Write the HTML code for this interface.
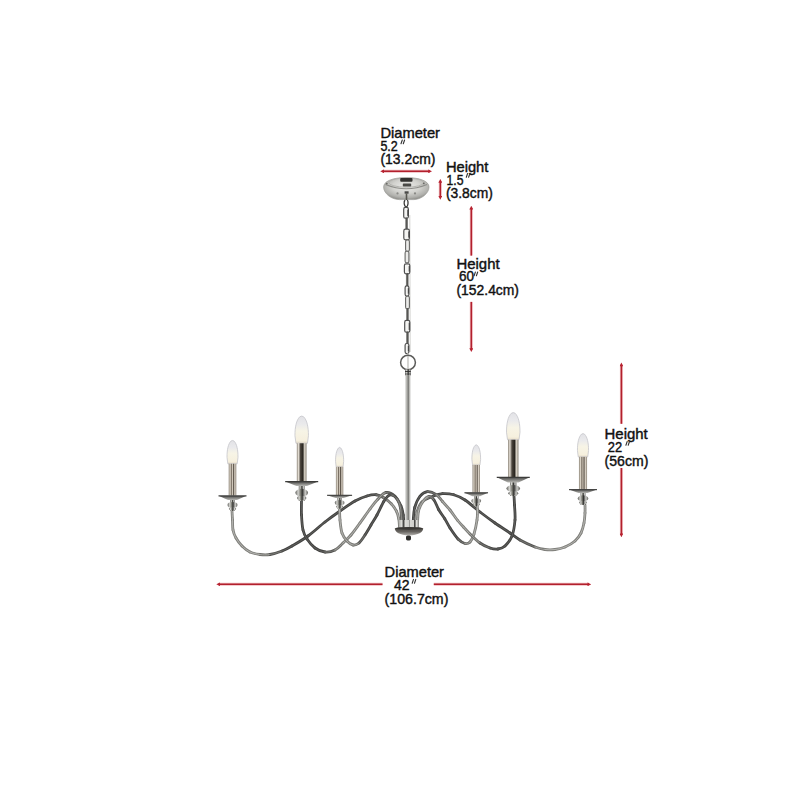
<!DOCTYPE html>
<html><head><meta charset="utf-8">
<style>
html,body{margin:0;padding:0;background:#fff;width:800px;height:800px;overflow:hidden}
svg{display:block}
.t{font-family:"Liberation Sans",sans-serif;font-size:14.8px;fill:#111;stroke:#111;stroke-width:0.42}
</style></head><body>
<svg width="800" height="800" viewBox="0 0 800 800">
<defs>
<marker id="ah" viewBox="0 0 10 10" refX="4" refY="5" markerWidth="4.2" markerHeight="3.8" orient="auto-start-reverse" markerUnits="userSpaceOnUse">
<path d="M0,0 L10,5 L0,10 z" fill="#b82230"/>
</marker>
<linearGradient id="stemg" x1="0" x2="1" y1="0" y2="0">
<stop offset="0" stop-color="#8a8a86"/><stop offset="0.25" stop-color="#cdcdc9"/><stop offset="0.45" stop-color="#8a8a86"/><stop offset="0.55" stop-color="#3e3e3c"/><stop offset="0.65" stop-color="#9a9a96"/><stop offset="0.82" stop-color="#c4c4c0"/><stop offset="1" stop-color="#7e7e7a"/>
</linearGradient>
<linearGradient id="sleeve" x1="0" x2="1" y1="0" y2="0">
<stop offset="0" stop-color="#8c8478"/><stop offset="0.25" stop-color="#e0dcd4"/><stop offset="0.5" stop-color="#5a554e"/><stop offset="0.75" stop-color="#cfc9bf"/><stop offset="1" stop-color="#8a847a"/>
</linearGradient>
<linearGradient id="bulb" x1="0" x2="0" y1="0" y2="1"><stop offset="0" stop-color="#e2e2e6"/><stop offset="0.3" stop-color="#eaeaec"/><stop offset="0.55" stop-color="#f7f4e6"/><stop offset="0.9" stop-color="#f6f0de"/><stop offset="1" stop-color="#e6dcc8"/></linearGradient>
<linearGradient id="stemg2" x1="0" x2="1"><stop offset="0" stop-color="#777"/><stop offset="0.3" stop-color="#d8d8d4"/><stop offset="0.55" stop-color="#2e2e2c"/><stop offset="0.8" stop-color="#bdbdb9"/><stop offset="1" stop-color="#666"/></linearGradient>
<linearGradient id="collar" x1="0" x2="1"><stop offset="0" stop-color="#b0b0ac"/><stop offset="0.15" stop-color="#e2e2de"/><stop offset="0.22" stop-color="#3a3a38"/><stop offset="0.33" stop-color="#dcdcd8"/><stop offset="0.5" stop-color="#cfcfcb"/><stop offset="0.5" stop-color="#2e2e2c"/><stop offset="0.56" stop-color="#d8d8d4"/><stop offset="0.75" stop-color="#d0d0cc"/><stop offset="0.8" stop-color="#3a3a38"/><stop offset="0.9" stop-color="#e0e0dc"/><stop offset="1" stop-color="#9a9a96"/></linearGradient>
<linearGradient id="bowl" x1="0" x2="0" y1="0" y2="1"><stop offset="0" stop-color="#4a4844"/><stop offset="0.5" stop-color="#625f5b"/><stop offset="1" stop-color="#b4b2ae"/></linearGradient>
<linearGradient id="sleeveB" x1="0" x2="1"><stop offset="0" stop-color="#8e877c"/><stop offset="0.18" stop-color="#e4ded4"/><stop offset="0.38" stop-color="#4a443c"/><stop offset="0.62" stop-color="#2a2620"/><stop offset="0.8" stop-color="#d8d2c6"/><stop offset="1" stop-color="#8e877c"/></linearGradient>
<linearGradient id="sleeveS" x1="0" x2="1"><stop offset="0" stop-color="#8a8276"/><stop offset="0.2" stop-color="#dcd5c8"/><stop offset="0.35" stop-color="#7a7064"/><stop offset="0.5" stop-color="#cfc7ba"/><stop offset="0.62" stop-color="#5e564c"/><stop offset="0.8" stop-color="#d6cec2"/><stop offset="1" stop-color="#8a8276"/></linearGradient>
<linearGradient id="knob" x1="0" x2="1"><stop offset="0" stop-color="#5e5e5a"/><stop offset="0.22" stop-color="#d4d4d0"/><stop offset="0.42" stop-color="#77776f"/><stop offset="0.55" stop-color="#333331"/><stop offset="0.78" stop-color="#cfcfcb"/><stop offset="1" stop-color="#5e5e5a"/></linearGradient>
<linearGradient id="bob" x1="0" x2="0" y1="0" y2="1"><stop offset="0" stop-color="#4a4a48"/><stop offset="1" stop-color="#b8b8b4"/></linearGradient>
<radialGradient id="canopyg" cx="0.5" cy="0.4" r="0.62"><stop offset="0" stop-color="#ececea"/><stop offset="0.5" stop-color="#d2d2ce"/><stop offset="0.82" stop-color="#b0b0ac"/><stop offset="1" stop-color="#8c8c88"/></radialGradient>
</defs>

<g stroke="#b2202d" stroke-width="1.5" fill="none">
<line x1="382.5" y1="171.3" x2="429.8" y2="171.3" stroke="#e58c92" stroke-width="3.0" stroke-opacity="0.6"/>
<line x1="382.5" y1="171.3" x2="429.8" y2="171.3" marker-start="url(#ah)" marker-end="url(#ah)"/>
<line x1="440.3" y1="181.2" x2="440.3" y2="197.4" stroke="#e58c92" stroke-width="3.0" stroke-opacity="0.6"/>
<line x1="440.3" y1="181.2" x2="440.3" y2="197.4" marker-start="url(#ah)" marker-end="url(#ah)"/>
<line x1="471.3" y1="208.0" x2="471.3" y2="255.6" stroke="#e58c92" stroke-width="3.0" stroke-opacity="0.6"/>
<line x1="471.3" y1="208.0" x2="471.3" y2="255.6" marker-start="url(#ah)"/>
<line x1="471.3" y1="301.9" x2="471.3" y2="349.8" stroke="#e58c92" stroke-width="3.0" stroke-opacity="0.6"/>
<line x1="471.3" y1="301.9" x2="471.3" y2="349.8" marker-end="url(#ah)"/>
<line x1="621.4" y1="364.8" x2="621.4" y2="423.8" stroke="#e58c92" stroke-width="3.0" stroke-opacity="0.6"/>
<line x1="621.4" y1="364.8" x2="621.4" y2="423.8" marker-start="url(#ah)"/>
<line x1="621.4" y1="468.0" x2="621.4" y2="535.0" stroke="#e58c92" stroke-width="3.0" stroke-opacity="0.6"/>
<line x1="621.4" y1="468.0" x2="621.4" y2="535.0" marker-end="url(#ah)"/>
<line x1="218.6" y1="584.3" x2="382.5" y2="584.3" stroke="#e58c92" stroke-width="3.0" stroke-opacity="0.6"/>
<line x1="218.6" y1="584.3" x2="382.5" y2="584.3" marker-start="url(#ah)"/>
<line x1="433.8" y1="584.3" x2="589.0" y2="584.3" stroke="#e58c92" stroke-width="3.0" stroke-opacity="0.6"/>
<line x1="433.8" y1="584.3" x2="589.0" y2="584.3" marker-end="url(#ah)"/>
</g>
<g class="t">
<text x="380.4" y="137.8" textLength="59.6" lengthAdjust="spacingAndGlyphs">Diameter</text>
<text x="380.4" y="150.9" textLength="17.4" lengthAdjust="spacingAndGlyphs">5.2</text>
<text x="380.4" y="164.4" textLength="55.0" lengthAdjust="spacingAndGlyphs">(13.2cm)</text>
<text x="445.9" y="172.3" textLength="42.5" lengthAdjust="spacingAndGlyphs">Height</text>
<text x="446.5" y="185.1" textLength="17.0" lengthAdjust="spacingAndGlyphs">1.5</text>
<text x="445.9" y="197.8" textLength="46.9" lengthAdjust="spacingAndGlyphs">(3.8cm)</text>
<text x="456.5" y="268.6" textLength="43.1" lengthAdjust="spacingAndGlyphs">Height</text>
<text x="459.0" y="280.8" textLength="15.0" lengthAdjust="spacingAndGlyphs">60</text>
<text x="456.5" y="294.8" textLength="62.5" lengthAdjust="spacingAndGlyphs">(152.4cm)</text>
<text x="604.6" y="439.2" textLength="43.1" lengthAdjust="spacingAndGlyphs">Height</text>
<text x="607.8" y="452.3" textLength="14.4" lengthAdjust="spacingAndGlyphs">22</text>
<text x="604.6" y="466.1" textLength="43.8" lengthAdjust="spacingAndGlyphs">(56cm)</text>
<text x="384.6" y="576.7" textLength="59.4" lengthAdjust="spacingAndGlyphs">Diameter</text>
<text x="394.0" y="590.4" textLength="15.6" lengthAdjust="spacingAndGlyphs">42</text>
<text x="384.6" y="603.6" textLength="63.8" lengthAdjust="spacingAndGlyphs">(106.7cm)</text>
</g>
<g stroke="#333" stroke-width="1.1" fill="none" stroke-linecap="round">
<path d="M402.3,140.0 l-1.3,3.8 M404.6,140.0 l-1.3,3.8"/>
<path d="M467.6,173.5 l-1.3,3.8 M469.9,173.5 l-1.3,3.8"/>
<path d="M475.4,272.0 l-1.3,3.8 M477.7,272.0 l-1.3,3.8"/>
<path d="M627.2,441.5 l-1.3,3.8 M629.5,441.5 l-1.3,3.8"/>
<path d="M413.5,579.4 l-1.3,3.8 M415.8,579.4 l-1.3,3.8"/>
</g>
<g>
<path d="M383.6,187 C383.6,181.5 392,177.6 406.3,177.6 C420.5,177.6 429,181.5 429,187 C429,193.5 421,199.6 413.8,199.6 L399.5,199.6 C391.5,199.6 383.6,193.5 383.6,187 z" fill="url(#canopyg)" stroke="#9c9c98" stroke-width="0.7"/>
<ellipse cx="406.3" cy="182.6" rx="17.5" ry="4.6" fill="none" stroke="#b0b0ac" stroke-width="0.9"/>
<path d="M385.5,184.5 Q406.3,193 427,184.5" fill="none" stroke="#8e8e8a" stroke-width="1.1"/>
<rect x="400.2" y="177.9" width="12.3" height="3.8" rx="1" fill="#333331"/>
<rect x="402.8" y="183.6" width="8.4" height="3" rx="0.8" fill="#4a4a47"/>
<rect x="404.6" y="191.3" width="4" height="2.4" fill="#4a4a48"/>
<circle cx="397.5" cy="193.4" r="1.1" fill="#8a8a86"/>
<circle cx="415" cy="193.4" r="1.1" fill="#8a8a86"/>
<circle cx="386.8" cy="183.6" r="0.9" fill="#6a6a66"/>
<circle cx="423.8" cy="183.4" r="0.9" fill="#6a6a66"/>
<line x1="406.5" y1="193.5" x2="406.5" y2="200" stroke="#55554f" stroke-width="1.6"/>
</g>
<line x1="409.8" y1="215" x2="410.2" y2="352" stroke="#b8b8b4" stroke-width="0.8" stroke-opacity="0.8"/>
<path d="M405,200 C403.5,202 404,206 406.2,207.5 C408.2,206 408.6,202 407.4,200" fill="none" stroke="#3a3a38" stroke-width="1.3"/>
<rect x="403.70" y="207.40" width="4.70" height="10.80" rx="1.6" ry="1.8" fill="#f4f4f2" stroke="#505050" stroke-width="1.2"/>
<line x1="407.80" y1="209.70" x2="407.80" y2="215.90" stroke="#333" stroke-width="0.9"/>
<rect x="405.70" y="217.90" width="1.8" height="11.50" rx="0.9" fill="#5a5a58" stroke="#3a3a38" stroke-width="0.4"/>
<rect x="403.80" y="229.10" width="5.60" height="10.80" rx="1.6" ry="1.8" fill="#f4f4f2" stroke="#505050" stroke-width="1.2"/>
<line x1="408.80" y1="231.40" x2="408.80" y2="237.60" stroke="#333" stroke-width="0.9"/>
<rect x="405.60" y="239.90" width="3.80" height="11.40" rx="1.4" ry="1.8" fill="#ececea" stroke="#676765" stroke-width="1.1"/>
<rect x="405.10" y="251.20" width="3.80" height="11.60" rx="1.4" ry="1.8" fill="#ececea" stroke="#676765" stroke-width="1.1"/>
<rect x="404.40" y="263.80" width="5.40" height="10.10" rx="1.6" ry="1.8" fill="#f4f4f2" stroke="#505050" stroke-width="1.2"/>
<line x1="409.20" y1="266.10" x2="409.20" y2="271.60" stroke="#333" stroke-width="0.9"/>
<rect x="406.40" y="273.50" width="1.8" height="12.70" rx="0.9" fill="#5a5a58" stroke="#3a3a38" stroke-width="0.4"/>
<rect x="405.10" y="285.90" width="3.80" height="10.10" rx="1.6" ry="1.8" fill="#f4f4f2" stroke="#505050" stroke-width="1.2"/>
<line x1="408.30" y1="288.20" x2="408.30" y2="293.70" stroke="#333" stroke-width="0.9"/>
<rect x="405.60" y="296.20" width="3.80" height="12.60" rx="1.4" ry="1.8" fill="#ececea" stroke="#676765" stroke-width="1.1"/>
<rect x="406.60" y="308.50" width="1.8" height="12.20" rx="0.9" fill="#5a5a58" stroke="#3a3a38" stroke-width="0.4"/>
<rect x="404.70" y="320.40" width="5.10" height="11.80" rx="1.6" ry="1.8" fill="#f4f4f2" stroke="#505050" stroke-width="1.2"/>
<line x1="409.20" y1="322.70" x2="409.20" y2="329.90" stroke="#333" stroke-width="0.9"/>
<rect x="406.60" y="331.90" width="1.8" height="11.90" rx="0.9" fill="#5a5a58" stroke="#3a3a38" stroke-width="0.4"/>
<rect x="405.10" y="343.50" width="3.80" height="10.10" rx="1.6" ry="1.8" fill="#f4f4f2" stroke="#505050" stroke-width="1.2"/>
<line x1="408.30" y1="345.80" x2="408.30" y2="351.30" stroke="#333" stroke-width="0.9"/>
<line x1="408" y1="353" x2="408" y2="369" stroke="#c4c4c0" stroke-width="1.4"/>
<ellipse cx="408" cy="362.5" rx="7.4" ry="7.2" fill="none" stroke="#5c5c5a" stroke-width="1.5"/>
<rect x="405" y="369.4" width="5.8" height="6" fill="url(#stemg2)"/>
<line x1="405" y1="371.5" x2="410.8" y2="371.5" stroke="#2e2e2c" stroke-width="0.9"/>
<line x1="405" y1="374" x2="410.8" y2="374" stroke="#3e3e3c" stroke-width="0.8"/>
<rect x="405.7" y="375" width="4.5" height="150" fill="url(#stemg)"/>

<g fill="none" stroke-linecap="round">
<path d="M232.00,511.00 C232.08,512.50 232.33,516.83 232.50,520.00" stroke="#80807c" stroke-width="2.8"/>
<path d="M232.50,520.00 C232.67,523.17 232.42,527.00 233.00,530.00" stroke="#80807c" stroke-width="2.8"/>
<path d="M233.00,530.00 C233.58,533.00 234.50,535.33 236.00,538.00" stroke="#80807c" stroke-width="2.8"/>
<path d="M236.00,538.00 C237.50,540.67 239.67,543.67 242.00,546.00" stroke="#80807c" stroke-width="2.8"/>
<path d="M242.00,546.00 C244.33,548.33 247.00,550.58 250.00,552.00" stroke="#80807c" stroke-width="2.8"/>
<path d="M250.00,552.00 C253.00,553.42 256.67,554.08 260.00,554.50" stroke="#80807c" stroke-width="2.8"/>
<path d="M260.00,554.50 C263.33,554.92 266.33,555.08 270.00,554.50" stroke="#72726e" stroke-width="2.8"/>
<path d="M270.00,554.50 C273.67,553.92 278.33,552.42 282.00,551.00" stroke="#535350" stroke-width="2.8"/>
<path d="M282.00,551.00 C285.67,549.58 287.67,548.50 292.00,546.00" stroke="#434341" stroke-width="2.8"/>
<path d="M292.00,546.00 C296.33,543.50 302.50,540.00 308.00,536.00" stroke="#434341" stroke-width="2.8"/>
<path d="M308.00,536.00 C313.50,532.00 319.67,526.17 325.00,522.00" stroke="#434341" stroke-width="2.8"/>
<path d="M325.00,522.00 C330.33,517.83 335.00,514.50 340.00,511.00" stroke="#434341" stroke-width="2.8"/>
<path d="M340.00,511.00 C345.00,507.50 350.50,503.50 355.00,501.00" stroke="#434341" stroke-width="2.8"/>
<path d="M355.00,501.00 C359.50,498.50 363.46,497.04 367.00,496.00" stroke="#434341" stroke-width="2.8"/>
<path d="M367.00,496.00 C370.54,494.96 373.46,494.46 376.25,494.75" stroke="#434341" stroke-width="2.8"/>
<path d="M376.25,494.75 C379.04,495.04 381.25,496.25 383.75,497.75" stroke="#535350" stroke-width="2.8"/>
<path d="M383.75,497.75 C386.25,499.25 389.12,501.50 391.25,503.75" stroke="#72726e" stroke-width="2.8"/>
<path d="M391.25,503.75 C393.38,506.00 395.25,508.75 396.50,511.25" stroke="#80807c" stroke-width="2.8"/>
<path d="M396.50,511.25 C397.75,513.75 398.25,516.12 398.75,518.75" stroke="#80807c" stroke-width="2.8"/>
<path d="M398.75,518.75 C399.25,521.38 399.38,525.62 399.50,527.00" stroke="#80807c" stroke-width="2.8"/>
<path d="M232.00,511.00 C232.08,512.50 232.33,516.83 232.50,520.00" stroke="#b4b4b0" stroke-width="1.0"/>
<path d="M232.50,520.00 C232.67,523.17 232.42,527.00 233.00,530.00" stroke="#b4b4b0" stroke-width="1.0"/>
<path d="M233.00,530.00 C233.58,533.00 234.50,535.33 236.00,538.00" stroke="#b4b4b0" stroke-width="1.0"/>
<path d="M236.00,538.00 C237.50,540.67 239.67,543.67 242.00,546.00" stroke="#b4b4b0" stroke-width="1.0"/>
<path d="M242.00,546.00 C244.33,548.33 247.00,550.58 250.00,552.00" stroke="#b4b4b0" stroke-width="1.0"/>
<path d="M250.00,552.00 C253.00,553.42 256.67,554.08 260.00,554.50" stroke="#b4b4b0" stroke-width="1.0"/>
<path d="M260.00,554.50 C263.33,554.92 266.33,555.08 270.00,554.50" stroke="#a1a19d" stroke-width="1.0"/>
<path d="M270.00,554.50 C273.67,553.92 278.33,552.42 282.00,551.00" stroke="#777774" stroke-width="1.0"/>
<path d="M282.00,551.00 C285.67,549.58 287.67,548.50 292.00,546.00" stroke="#60605e" stroke-width="1.0"/>
<path d="M292.00,546.00 C296.33,543.50 302.50,540.00 308.00,536.00" stroke="#60605e" stroke-width="1.0"/>
<path d="M308.00,536.00 C313.50,532.00 319.67,526.17 325.00,522.00" stroke="#60605e" stroke-width="1.0"/>
<path d="M325.00,522.00 C330.33,517.83 335.00,514.50 340.00,511.00" stroke="#60605e" stroke-width="1.0"/>
<path d="M340.00,511.00 C345.00,507.50 350.50,503.50 355.00,501.00" stroke="#60605e" stroke-width="1.0"/>
<path d="M355.00,501.00 C359.50,498.50 363.46,497.04 367.00,496.00" stroke="#60605e" stroke-width="1.0"/>
<path d="M367.00,496.00 C370.54,494.96 373.46,494.46 376.25,494.75" stroke="#60605e" stroke-width="1.0"/>
<path d="M376.25,494.75 C379.04,495.04 381.25,496.25 383.75,497.75" stroke="#777774" stroke-width="1.0"/>
<path d="M383.75,497.75 C386.25,499.25 389.12,501.50 391.25,503.75" stroke="#a1a19d" stroke-width="1.0"/>
<path d="M391.25,503.75 C393.38,506.00 395.25,508.75 396.50,511.25" stroke="#b4b4b0" stroke-width="1.0"/>
<path d="M396.50,511.25 C397.75,513.75 398.25,516.12 398.75,518.75" stroke="#b4b4b0" stroke-width="1.0"/>
<path d="M398.75,518.75 C399.25,521.38 399.38,525.62 399.50,527.00" stroke="#b4b4b0" stroke-width="1.0"/>
<path d="M301.50,501.00 C301.50,503.33 301.25,510.17 301.50,515.00" stroke="#434341" stroke-width="2.8"/>
<path d="M301.50,515.00 C301.75,519.83 302.08,526.00 303.00,530.00" stroke="#434341" stroke-width="2.8"/>
<path d="M303.00,530.00 C303.92,534.00 305.00,536.00 307.00,539.00" stroke="#434341" stroke-width="2.8"/>
<path d="M307.00,539.00 C309.00,542.00 312.00,545.83 315.00,548.00" stroke="#434341" stroke-width="2.8"/>
<path d="M315.00,548.00 C318.00,550.17 321.67,551.67 325.00,552.00" stroke="#434341" stroke-width="2.8"/>
<path d="M325.00,552.00 C328.33,552.33 332.00,551.50 335.00,550.00" stroke="#535350" stroke-width="2.8"/>
<path d="M335.00,550.00 C338.00,548.50 340.33,545.50 343.00,543.00" stroke="#72726e" stroke-width="2.8"/>
<path d="M343.00,543.00 C345.67,540.50 348.17,538.33 351.00,535.00" stroke="#80807c" stroke-width="2.8"/>
<path d="M351.00,535.00 C353.83,531.67 356.83,527.33 360.00,523.00" stroke="#80807c" stroke-width="2.8"/>
<path d="M360.00,523.00 C363.17,518.67 367.00,513.00 370.00,509.00" stroke="#80807c" stroke-width="2.8"/>
<path d="M370.00,509.00 C373.00,505.00 375.33,501.75 378.00,499.00" stroke="#80807c" stroke-width="2.8"/>
<path d="M378.00,499.00 C380.67,496.25 383.17,492.96 386.00,492.50" stroke="#72726e" stroke-width="2.8"/>
<path d="M386.00,492.50 C388.83,492.04 392.50,494.00 395.00,496.25" stroke="#535350" stroke-width="2.8"/>
<path d="M395.00,496.25 C397.50,498.50 399.62,502.88 401.00,506.00" stroke="#434341" stroke-width="2.8"/>
<path d="M401.00,506.00 C402.38,509.12 402.75,511.50 403.25,515.00" stroke="#434341" stroke-width="2.8"/>
<path d="M403.25,515.00 C403.75,518.50 403.88,525.00 404.00,527.00" stroke="#434341" stroke-width="2.8"/>
<path d="M301.50,501.00 C301.50,503.33 301.25,510.17 301.50,515.00" stroke="#60605e" stroke-width="1.0"/>
<path d="M301.50,515.00 C301.75,519.83 302.08,526.00 303.00,530.00" stroke="#60605e" stroke-width="1.0"/>
<path d="M303.00,530.00 C303.92,534.00 305.00,536.00 307.00,539.00" stroke="#60605e" stroke-width="1.0"/>
<path d="M307.00,539.00 C309.00,542.00 312.00,545.83 315.00,548.00" stroke="#60605e" stroke-width="1.0"/>
<path d="M315.00,548.00 C318.00,550.17 321.67,551.67 325.00,552.00" stroke="#60605e" stroke-width="1.0"/>
<path d="M325.00,552.00 C328.33,552.33 332.00,551.50 335.00,550.00" stroke="#777774" stroke-width="1.0"/>
<path d="M335.00,550.00 C338.00,548.50 340.33,545.50 343.00,543.00" stroke="#a1a19d" stroke-width="1.0"/>
<path d="M343.00,543.00 C345.67,540.50 348.17,538.33 351.00,535.00" stroke="#b4b4b0" stroke-width="1.0"/>
<path d="M351.00,535.00 C353.83,531.67 356.83,527.33 360.00,523.00" stroke="#b4b4b0" stroke-width="1.0"/>
<path d="M360.00,523.00 C363.17,518.67 367.00,513.00 370.00,509.00" stroke="#b4b4b0" stroke-width="1.0"/>
<path d="M370.00,509.00 C373.00,505.00 375.33,501.75 378.00,499.00" stroke="#b4b4b0" stroke-width="1.0"/>
<path d="M378.00,499.00 C380.67,496.25 383.17,492.96 386.00,492.50" stroke="#a1a19d" stroke-width="1.0"/>
<path d="M386.00,492.50 C388.83,492.04 392.50,494.00 395.00,496.25" stroke="#777774" stroke-width="1.0"/>
<path d="M395.00,496.25 C397.50,498.50 399.62,502.88 401.00,506.00" stroke="#60605e" stroke-width="1.0"/>
<path d="M401.00,506.00 C402.38,509.12 402.75,511.50 403.25,515.00" stroke="#60605e" stroke-width="1.0"/>
<path d="M403.25,515.00 C403.75,518.50 403.88,525.00 404.00,527.00" stroke="#60605e" stroke-width="1.0"/>
<path d="M339.50,508.00 C339.58,510.00 339.58,515.83 340.00,520.00" stroke="#80807c" stroke-width="2.8"/>
<path d="M340.00,520.00 C340.42,524.17 340.83,529.50 342.00,533.00" stroke="#80807c" stroke-width="2.8"/>
<path d="M342.00,533.00 C343.17,536.50 345.17,539.00 347.00,541.00" stroke="#80807c" stroke-width="2.8"/>
<path d="M347.00,541.00 C348.83,543.00 351.00,544.67 353.00,545.00" stroke="#80807c" stroke-width="2.8"/>
<path d="M353.00,545.00 C355.00,545.33 357.00,544.67 359.00,543.00" stroke="#72726e" stroke-width="2.8"/>
<path d="M359.00,543.00 C361.00,541.33 363.00,538.00 365.00,535.00" stroke="#535350" stroke-width="2.8"/>
<path d="M365.00,535.00 C367.00,532.00 369.00,528.33 371.00,525.00" stroke="#434341" stroke-width="2.8"/>
<path d="M371.00,525.00 C373.00,521.67 374.88,518.92 377.00,515.00" stroke="#434341" stroke-width="2.8"/>
<path d="M377.00,515.00 C379.12,511.08 381.92,504.67 383.75,501.50" stroke="#434341" stroke-width="2.8"/>
<path d="M383.75,501.50 C385.58,498.33 386.62,497.08 388.00,496.00" stroke="#434341" stroke-width="2.8"/>
<path d="M388.00,496.00 C389.38,494.92 390.50,494.50 392.00,495.00" stroke="#434341" stroke-width="2.8"/>
<path d="M392.00,495.00 C393.50,495.50 395.58,496.83 397.00,499.00" stroke="#535350" stroke-width="2.8"/>
<path d="M397.00,499.00 C398.42,501.17 399.67,503.33 400.50,508.00" stroke="#636360" stroke-width="2.8"/>
<path d="M400.50,508.00 C401.33,512.67 401.75,523.83 402.00,527.00" stroke="#636360" stroke-width="2.8"/>
<path d="M339.50,508.00 C339.58,510.00 339.58,515.83 340.00,520.00" stroke="#b4b4b0" stroke-width="1.0"/>
<path d="M340.00,520.00 C340.42,524.17 340.83,529.50 342.00,533.00" stroke="#b4b4b0" stroke-width="1.0"/>
<path d="M342.00,533.00 C343.17,536.50 345.17,539.00 347.00,541.00" stroke="#b4b4b0" stroke-width="1.0"/>
<path d="M347.00,541.00 C348.83,543.00 351.00,544.67 353.00,545.00" stroke="#b4b4b0" stroke-width="1.0"/>
<path d="M353.00,545.00 C355.00,545.33 357.00,544.67 359.00,543.00" stroke="#a1a19d" stroke-width="1.0"/>
<path d="M359.00,543.00 C361.00,541.33 363.00,538.00 365.00,535.00" stroke="#777774" stroke-width="1.0"/>
<path d="M365.00,535.00 C367.00,532.00 369.00,528.33 371.00,525.00" stroke="#60605e" stroke-width="1.0"/>
<path d="M371.00,525.00 C373.00,521.67 374.88,518.92 377.00,515.00" stroke="#60605e" stroke-width="1.0"/>
<path d="M377.00,515.00 C379.12,511.08 381.92,504.67 383.75,501.50" stroke="#60605e" stroke-width="1.0"/>
<path d="M383.75,501.50 C385.58,498.33 386.62,497.08 388.00,496.00" stroke="#60605e" stroke-width="1.0"/>
<path d="M388.00,496.00 C389.38,494.92 390.50,494.50 392.00,495.00" stroke="#60605e" stroke-width="1.0"/>
<path d="M392.00,495.00 C393.50,495.50 395.58,496.83 397.00,499.00" stroke="#777774" stroke-width="1.0"/>
<path d="M397.00,499.00 C398.42,501.17 399.67,503.33 400.50,508.00" stroke="#8e8e8a" stroke-width="1.0"/>
<path d="M400.50,508.00 C401.33,512.67 401.75,523.83 402.00,527.00" stroke="#8e8e8a" stroke-width="1.0"/>
<path d="M415.50,524.00 C415.75,522.00 415.92,515.67 417.00,512.00" stroke="#80807c" stroke-width="2.8"/>
<path d="M417.00,512.00 C418.08,508.33 419.25,504.67 422.00,502.00" stroke="#72726e" stroke-width="2.8"/>
<path d="M422.00,502.00 C424.75,499.33 430.08,497.40 433.50,496.00" stroke="#535350" stroke-width="2.8"/>
<path d="M433.50,496.00 C436.92,494.60 439.12,493.81 442.50,493.60" stroke="#434341" stroke-width="2.8"/>
<path d="M442.50,493.60 C445.88,493.39 450.00,493.68 453.75,494.75" stroke="#434341" stroke-width="2.8"/>
<path d="M453.75,494.75 C457.50,495.82 460.62,497.12 465.00,500.00" stroke="#434341" stroke-width="2.8"/>
<path d="M465.00,500.00 C469.38,502.88 475.00,508.17 480.00,512.00" stroke="#434341" stroke-width="2.8"/>
<path d="M480.00,512.00 C485.00,515.83 490.00,519.50 495.00,523.00" stroke="#434341" stroke-width="2.8"/>
<path d="M495.00,523.00 C500.00,526.50 505.83,530.17 510.00,533.00" stroke="#434341" stroke-width="2.8"/>
<path d="M510.00,533.00 C514.17,535.83 515.83,537.67 520.00,540.00" stroke="#434341" stroke-width="2.8"/>
<path d="M520.00,540.00 C524.17,542.33 530.83,545.42 535.00,547.00" stroke="#535350" stroke-width="2.8"/>
<path d="M535.00,547.00 C539.17,548.58 541.67,549.08 545.00,549.50" stroke="#72726e" stroke-width="2.8"/>
<path d="M545.00,549.50 C548.33,549.92 551.67,549.92 555.00,549.50" stroke="#80807c" stroke-width="2.8"/>
<path d="M555.00,549.50 C558.33,549.08 561.67,548.42 565.00,547.00" stroke="#80807c" stroke-width="2.8"/>
<path d="M565.00,547.00 C568.33,545.58 572.33,543.33 575.00,541.00" stroke="#80807c" stroke-width="2.8"/>
<path d="M575.00,541.00 C577.67,538.67 579.50,536.00 581.00,533.00" stroke="#80807c" stroke-width="2.8"/>
<path d="M581.00,533.00 C582.50,530.00 583.33,526.33 584.00,523.00" stroke="#80807c" stroke-width="2.8"/>
<path d="M584.00,523.00 C584.67,519.67 584.83,516.00 585.00,513.00" stroke="#80807c" stroke-width="2.8"/>
<path d="M585.00,513.00 C585.17,510.00 585.00,506.33 585.00,505.00" stroke="#80807c" stroke-width="2.8"/>
<path d="M415.50,524.00 C415.75,522.00 415.92,515.67 417.00,512.00" stroke="#b4b4b0" stroke-width="1.0"/>
<path d="M417.00,512.00 C418.08,508.33 419.25,504.67 422.00,502.00" stroke="#a1a19d" stroke-width="1.0"/>
<path d="M422.00,502.00 C424.75,499.33 430.08,497.40 433.50,496.00" stroke="#777774" stroke-width="1.0"/>
<path d="M433.50,496.00 C436.92,494.60 439.12,493.81 442.50,493.60" stroke="#60605e" stroke-width="1.0"/>
<path d="M442.50,493.60 C445.88,493.39 450.00,493.68 453.75,494.75" stroke="#60605e" stroke-width="1.0"/>
<path d="M453.75,494.75 C457.50,495.82 460.62,497.12 465.00,500.00" stroke="#60605e" stroke-width="1.0"/>
<path d="M465.00,500.00 C469.38,502.88 475.00,508.17 480.00,512.00" stroke="#60605e" stroke-width="1.0"/>
<path d="M480.00,512.00 C485.00,515.83 490.00,519.50 495.00,523.00" stroke="#60605e" stroke-width="1.0"/>
<path d="M495.00,523.00 C500.00,526.50 505.83,530.17 510.00,533.00" stroke="#60605e" stroke-width="1.0"/>
<path d="M510.00,533.00 C514.17,535.83 515.83,537.67 520.00,540.00" stroke="#60605e" stroke-width="1.0"/>
<path d="M520.00,540.00 C524.17,542.33 530.83,545.42 535.00,547.00" stroke="#777774" stroke-width="1.0"/>
<path d="M535.00,547.00 C539.17,548.58 541.67,549.08 545.00,549.50" stroke="#a1a19d" stroke-width="1.0"/>
<path d="M545.00,549.50 C548.33,549.92 551.67,549.92 555.00,549.50" stroke="#b4b4b0" stroke-width="1.0"/>
<path d="M555.00,549.50 C558.33,549.08 561.67,548.42 565.00,547.00" stroke="#b4b4b0" stroke-width="1.0"/>
<path d="M565.00,547.00 C568.33,545.58 572.33,543.33 575.00,541.00" stroke="#b4b4b0" stroke-width="1.0"/>
<path d="M575.00,541.00 C577.67,538.67 579.50,536.00 581.00,533.00" stroke="#b4b4b0" stroke-width="1.0"/>
<path d="M581.00,533.00 C582.50,530.00 583.33,526.33 584.00,523.00" stroke="#b4b4b0" stroke-width="1.0"/>
<path d="M584.00,523.00 C584.67,519.67 584.83,516.00 585.00,513.00" stroke="#b4b4b0" stroke-width="1.0"/>
<path d="M585.00,513.00 C585.17,510.00 585.00,506.33 585.00,505.00" stroke="#b4b4b0" stroke-width="1.0"/>
<path d="M417.40,527.00 C417.58,524.38 417.57,515.50 418.50,511.25" stroke="#80807c" stroke-width="2.8"/>
<path d="M418.50,511.25 C419.43,507.00 421.25,503.96 423.00,501.50" stroke="#80807c" stroke-width="2.8"/>
<path d="M423.00,501.50 C424.75,499.04 427.17,496.75 429.00,496.50" stroke="#80807c" stroke-width="2.8"/>
<path d="M429.00,496.50 C430.83,496.25 432.38,497.79 434.00,500.00" stroke="#62625e" stroke-width="2.8"/>
<path d="M434.00,500.00 C435.62,502.21 436.96,506.62 438.75,509.75" stroke="#434341" stroke-width="2.8"/>
<path d="M438.75,509.75 C440.54,512.88 442.88,515.71 444.75,518.75" stroke="#434341" stroke-width="2.8"/>
<path d="M444.75,518.75 C446.62,521.79 447.79,524.62 450.00,528.00" stroke="#434341" stroke-width="2.8"/>
<path d="M450.00,528.00 C452.21,531.38 455.50,536.42 458.00,539.00" stroke="#434341" stroke-width="2.8"/>
<path d="M458.00,539.00 C460.50,541.58 463.00,543.00 465.00,543.50" stroke="#535350" stroke-width="2.8"/>
<path d="M465.00,543.50 C467.00,544.00 468.50,543.58 470.00,542.00" stroke="#72726e" stroke-width="2.8"/>
<path d="M470.00,542.00 C471.50,540.42 472.83,537.67 474.00,534.00" stroke="#80807c" stroke-width="2.8"/>
<path d="M474.00,534.00 C475.17,530.33 476.42,524.00 477.00,520.00" stroke="#80807c" stroke-width="2.8"/>
<path d="M477.00,520.00 C477.58,516.00 477.50,512.50 477.50,510.00" stroke="#80807c" stroke-width="2.8"/>
<path d="M477.50,510.00 C477.50,507.50 477.08,505.83 477.00,505.00" stroke="#80807c" stroke-width="2.8"/>
<path d="M417.40,527.00 C417.58,524.38 417.57,515.50 418.50,511.25" stroke="#b4b4b0" stroke-width="1.0"/>
<path d="M418.50,511.25 C419.43,507.00 421.25,503.96 423.00,501.50" stroke="#b4b4b0" stroke-width="1.0"/>
<path d="M423.00,501.50 C424.75,499.04 427.17,496.75 429.00,496.50" stroke="#b4b4b0" stroke-width="1.0"/>
<path d="M429.00,496.50 C430.83,496.25 432.38,497.79 434.00,500.00" stroke="#8a8a87" stroke-width="1.0"/>
<path d="M434.00,500.00 C435.62,502.21 436.96,506.62 438.75,509.75" stroke="#60605e" stroke-width="1.0"/>
<path d="M438.75,509.75 C440.54,512.88 442.88,515.71 444.75,518.75" stroke="#60605e" stroke-width="1.0"/>
<path d="M444.75,518.75 C446.62,521.79 447.79,524.62 450.00,528.00" stroke="#60605e" stroke-width="1.0"/>
<path d="M450.00,528.00 C452.21,531.38 455.50,536.42 458.00,539.00" stroke="#60605e" stroke-width="1.0"/>
<path d="M458.00,539.00 C460.50,541.58 463.00,543.00 465.00,543.50" stroke="#777774" stroke-width="1.0"/>
<path d="M465.00,543.50 C467.00,544.00 468.50,543.58 470.00,542.00" stroke="#a1a19d" stroke-width="1.0"/>
<path d="M470.00,542.00 C471.50,540.42 472.83,537.67 474.00,534.00" stroke="#b4b4b0" stroke-width="1.0"/>
<path d="M474.00,534.00 C475.17,530.33 476.42,524.00 477.00,520.00" stroke="#b4b4b0" stroke-width="1.0"/>
<path d="M477.00,520.00 C477.58,516.00 477.50,512.50 477.50,510.00" stroke="#b4b4b0" stroke-width="1.0"/>
<path d="M477.50,510.00 C477.50,507.50 477.08,505.83 477.00,505.00" stroke="#b4b4b0" stroke-width="1.0"/>
<path d="M413.25,527.00 C413.25,525.88 413.00,523.50 413.25,520.25" stroke="#434341" stroke-width="2.8"/>
<path d="M413.25,520.25 C413.50,517.00 413.62,511.50 414.75,507.50" stroke="#434341" stroke-width="2.8"/>
<path d="M414.75,507.50 C415.88,503.50 417.88,498.90 420.00,496.25" stroke="#434341" stroke-width="2.8"/>
<path d="M420.00,496.25 C422.12,493.60 424.75,491.85 427.50,491.60" stroke="#434341" stroke-width="2.8"/>
<path d="M427.50,491.60 C430.25,491.35 434.00,493.10 436.50,494.75" stroke="#535350" stroke-width="2.8"/>
<path d="M436.50,494.75 C439.00,496.40 440.25,498.96 442.50,501.50" stroke="#72726e" stroke-width="2.8"/>
<path d="M442.50,501.50 C444.75,504.04 447.50,506.88 450.00,510.00" stroke="#80807c" stroke-width="2.8"/>
<path d="M450.00,510.00 C452.50,513.12 455.25,517.42 457.50,520.25" stroke="#80807c" stroke-width="2.8"/>
<path d="M457.50,520.25 C459.75,523.08 461.42,524.71 463.50,527.00" stroke="#80807c" stroke-width="2.8"/>
<path d="M463.50,527.00 C465.58,529.29 467.25,531.33 470.00,534.00" stroke="#80807c" stroke-width="2.8"/>
<path d="M470.00,534.00 C472.75,536.67 476.67,540.67 480.00,543.00" stroke="#72726e" stroke-width="2.8"/>
<path d="M480.00,543.00 C483.33,545.33 487.00,547.00 490.00,548.00" stroke="#535350" stroke-width="2.8"/>
<path d="M490.00,548.00 C493.00,549.00 495.50,549.33 498.00,549.00" stroke="#434341" stroke-width="2.8"/>
<path d="M498.00,549.00 C500.50,548.67 502.67,548.17 505.00,546.00" stroke="#434341" stroke-width="2.8"/>
<path d="M505.00,546.00 C507.33,543.83 510.33,540.33 512.00,536.00" stroke="#434341" stroke-width="2.8"/>
<path d="M512.00,536.00 C513.67,531.67 514.58,525.17 515.00,520.00" stroke="#434341" stroke-width="2.8"/>
<path d="M515.00,520.00 C515.42,514.83 514.67,509.00 514.50,505.00" stroke="#434341" stroke-width="2.8"/>
<path d="M514.50,505.00 C514.33,501.00 514.08,497.50 514.00,496.00" stroke="#434341" stroke-width="2.8"/>
<path d="M413.25,527.00 C413.25,525.88 413.00,523.50 413.25,520.25" stroke="#60605e" stroke-width="1.0"/>
<path d="M413.25,520.25 C413.50,517.00 413.62,511.50 414.75,507.50" stroke="#60605e" stroke-width="1.0"/>
<path d="M414.75,507.50 C415.88,503.50 417.88,498.90 420.00,496.25" stroke="#60605e" stroke-width="1.0"/>
<path d="M420.00,496.25 C422.12,493.60 424.75,491.85 427.50,491.60" stroke="#60605e" stroke-width="1.0"/>
<path d="M427.50,491.60 C430.25,491.35 434.00,493.10 436.50,494.75" stroke="#777774" stroke-width="1.0"/>
<path d="M436.50,494.75 C439.00,496.40 440.25,498.96 442.50,501.50" stroke="#a1a19d" stroke-width="1.0"/>
<path d="M442.50,501.50 C444.75,504.04 447.50,506.88 450.00,510.00" stroke="#b4b4b0" stroke-width="1.0"/>
<path d="M450.00,510.00 C452.50,513.12 455.25,517.42 457.50,520.25" stroke="#b4b4b0" stroke-width="1.0"/>
<path d="M457.50,520.25 C459.75,523.08 461.42,524.71 463.50,527.00" stroke="#b4b4b0" stroke-width="1.0"/>
<path d="M463.50,527.00 C465.58,529.29 467.25,531.33 470.00,534.00" stroke="#b4b4b0" stroke-width="1.0"/>
<path d="M470.00,534.00 C472.75,536.67 476.67,540.67 480.00,543.00" stroke="#a1a19d" stroke-width="1.0"/>
<path d="M480.00,543.00 C483.33,545.33 487.00,547.00 490.00,548.00" stroke="#777774" stroke-width="1.0"/>
<path d="M490.00,548.00 C493.00,549.00 495.50,549.33 498.00,549.00" stroke="#60605e" stroke-width="1.0"/>
<path d="M498.00,549.00 C500.50,548.67 502.67,548.17 505.00,546.00" stroke="#60605e" stroke-width="1.0"/>
<path d="M505.00,546.00 C507.33,543.83 510.33,540.33 512.00,536.00" stroke="#60605e" stroke-width="1.0"/>
<path d="M512.00,536.00 C513.67,531.67 514.58,525.17 515.00,520.00" stroke="#60605e" stroke-width="1.0"/>
<path d="M515.00,520.00 C515.42,514.83 514.67,509.00 514.50,505.00" stroke="#60605e" stroke-width="1.0"/>
<path d="M514.50,505.00 C514.33,501.00 514.08,497.50 514.00,496.00" stroke="#60605e" stroke-width="1.0"/>
</g>
<rect x="399" y="520" width="19.5" height="8.5" fill="url(#collar)"/>
<path d="M394.75,528.6 Q394.75,527.2 409,527.2 Q423.25,527.2 423.25,528.6 C423,532.2 418.5,535.4 409,535.4 C399.5,535.4 395,532.2 394.75,528.6 z" fill="url(#bowl)"/>
<ellipse cx="409" cy="528.4" rx="13.5" ry="1.3" fill="#3a3835"/>
<rect x="406" y="535.4" width="5" height="5" rx="1.6" fill="#2e2e2c"/>

<path d="M230.96,441.10 Q232.50,439.80 234.04,441.10 C236.90,444.07 238.00,449.86 238.00,457.27 L237.18,463.75 L227.82,463.75 L227.00,457.27 C227.00,449.86 228.10,444.07 230.96,441.10 z" fill="url(#bulb)" stroke="#c8c8cc" stroke-width="0.85"/>
<rect x="228.70" y="463.75" width="7.60" height="31.85" fill="url(#sleeveS)"/>
<rect x="230.22" y="499.00" width="4.56" height="12.00" fill="url(#knob)"/>
<ellipse cx="232.50" cy="504.95" rx="4.94" ry="2.86" fill="url(#knob)"/>
<ellipse cx="232.50" cy="508.80" rx="3.61" ry="1.65" fill="url(#knob)"/>
<path d="M218.50,495.80 L246.50,495.80 L236.98,500.00 L228.02,500.00 z" fill="url(#bob)"/>
<line x1="218.50" y1="495.90" x2="246.50" y2="495.90" stroke="#3c3c3a" stroke-width="1.1"/>
<path d="M299.81,416.75 Q301.70,415.45 303.59,416.75 C307.10,420.30 308.45,427.05 308.45,435.69 L307.44,443.25 L295.96,443.25 L294.95,435.69 C294.95,427.05 296.30,420.30 299.81,416.75 z" fill="url(#bulb)" stroke="#c8c8cc" stroke-width="0.85"/>
<rect x="296.82" y="443.25" width="9.75" height="38.25" fill="url(#sleeveB)"/>
<rect x="298.77" y="485.00" width="5.85" height="16.00" fill="url(#knob)"/>
<ellipse cx="301.70" cy="492.75" rx="6.34" ry="3.90" fill="url(#knob)"/>
<ellipse cx="301.70" cy="498.00" rx="4.63" ry="2.25" fill="url(#knob)"/>
<path d="M285.20,481.55 L318.20,481.55 L306.98,486.00 L296.42,486.00 z" fill="url(#bob)"/>
<line x1="285.20" y1="481.65" x2="318.20" y2="481.65" stroke="#3c3c3a" stroke-width="1.1"/>
<path d="M338.47,448.00 Q339.60,446.70 340.73,448.00 C342.84,450.41 343.65,455.26 343.65,461.47 L343.04,466.90 L336.16,466.90 L335.55,461.47 C335.55,455.26 336.36,450.41 338.47,448.00 z" fill="url(#bulb)" stroke="#c8c8cc" stroke-width="0.85"/>
<rect x="335.90" y="466.90" width="7.40" height="28.10" fill="url(#sleeveS)"/>
<rect x="337.38" y="497.00" width="4.44" height="11.75" fill="url(#knob)"/>
<ellipse cx="339.60" cy="502.84" rx="4.81" ry="2.79" fill="url(#knob)"/>
<ellipse cx="339.60" cy="506.60" rx="3.52" ry="1.61" fill="url(#knob)"/>
<path d="M327.10,495.20 L352.10,495.20 L343.60,498.00 L335.60,498.00 z" fill="url(#bob)"/>
<line x1="327.10" y1="495.30" x2="352.10" y2="495.30" stroke="#3c3c3a" stroke-width="1.1"/>
<path d="M475.03,445.50 Q476.25,444.20 477.47,445.50 C479.73,448.00 480.60,453.00 480.60,459.40 L479.95,465.00 L472.55,465.00 L471.90,459.40 C471.90,453.00 472.77,448.00 475.03,445.50 z" fill="url(#bulb)" stroke="#c8c8cc" stroke-width="0.85"/>
<rect x="472.50" y="465.00" width="7.50" height="27.50" fill="url(#sleeveS)"/>
<rect x="474.00" y="495.25" width="4.50" height="11.00" fill="url(#knob)"/>
<ellipse cx="476.25" cy="500.75" rx="4.88" ry="2.60" fill="url(#knob)"/>
<ellipse cx="476.25" cy="504.25" rx="3.56" ry="1.50" fill="url(#knob)"/>
<path d="M464.45,492.70 L488.05,492.70 L480.03,496.25 L472.47,496.25 z" fill="url(#bob)"/>
<line x1="464.45" y1="492.80" x2="488.05" y2="492.80" stroke="#3c3c3a" stroke-width="1.1"/>
<path d="M511.36,413.25 Q513.25,411.95 515.14,413.25 C518.65,416.80 520.00,423.55 520.00,432.19 L518.99,439.75 L507.51,439.75 L506.50,432.19 C506.50,423.55 507.85,416.80 511.36,413.25 z" fill="url(#bulb)" stroke="#c8c8cc" stroke-width="0.85"/>
<rect x="508.00" y="439.75" width="10.50" height="38.25" fill="url(#sleeveB)"/>
<rect x="510.10" y="481.50" width="6.30" height="14.50" fill="url(#knob)"/>
<ellipse cx="513.25" cy="488.57" rx="6.83" ry="3.51" fill="url(#knob)"/>
<ellipse cx="513.25" cy="493.30" rx="4.99" ry="2.02" fill="url(#knob)"/>
<path d="M496.75,477.30 L529.75,477.30 L518.53,482.50 L507.97,482.50 z" fill="url(#bob)"/>
<line x1="496.75" y1="477.40" x2="529.75" y2="477.40" stroke="#3c3c3a" stroke-width="1.1"/>
<path d="M581.45,434.25 Q583.00,432.95 584.55,434.25 C587.44,437.22 588.55,443.01 588.55,450.42 L587.72,456.90 L578.28,456.90 L577.45,450.42 C577.45,443.01 578.56,437.22 581.45,434.25 z" fill="url(#bulb)" stroke="#c8c8cc" stroke-width="0.85"/>
<rect x="578.95" y="456.90" width="8.10" height="32.50" fill="url(#sleeveS)"/>
<rect x="580.57" y="492.00" width="4.86" height="13.00" fill="url(#knob)"/>
<ellipse cx="583.00" cy="498.40" rx="5.26" ry="3.12" fill="url(#knob)"/>
<ellipse cx="583.00" cy="502.60" rx="3.85" ry="1.80" fill="url(#knob)"/>
<path d="M569.00,489.55 L597.00,489.55 L587.48,493.00 L578.52,493.00 z" fill="url(#bob)"/>
<line x1="569.00" y1="489.65" x2="597.00" y2="489.65" stroke="#3c3c3a" stroke-width="1.1"/>
</svg>
</body></html>
